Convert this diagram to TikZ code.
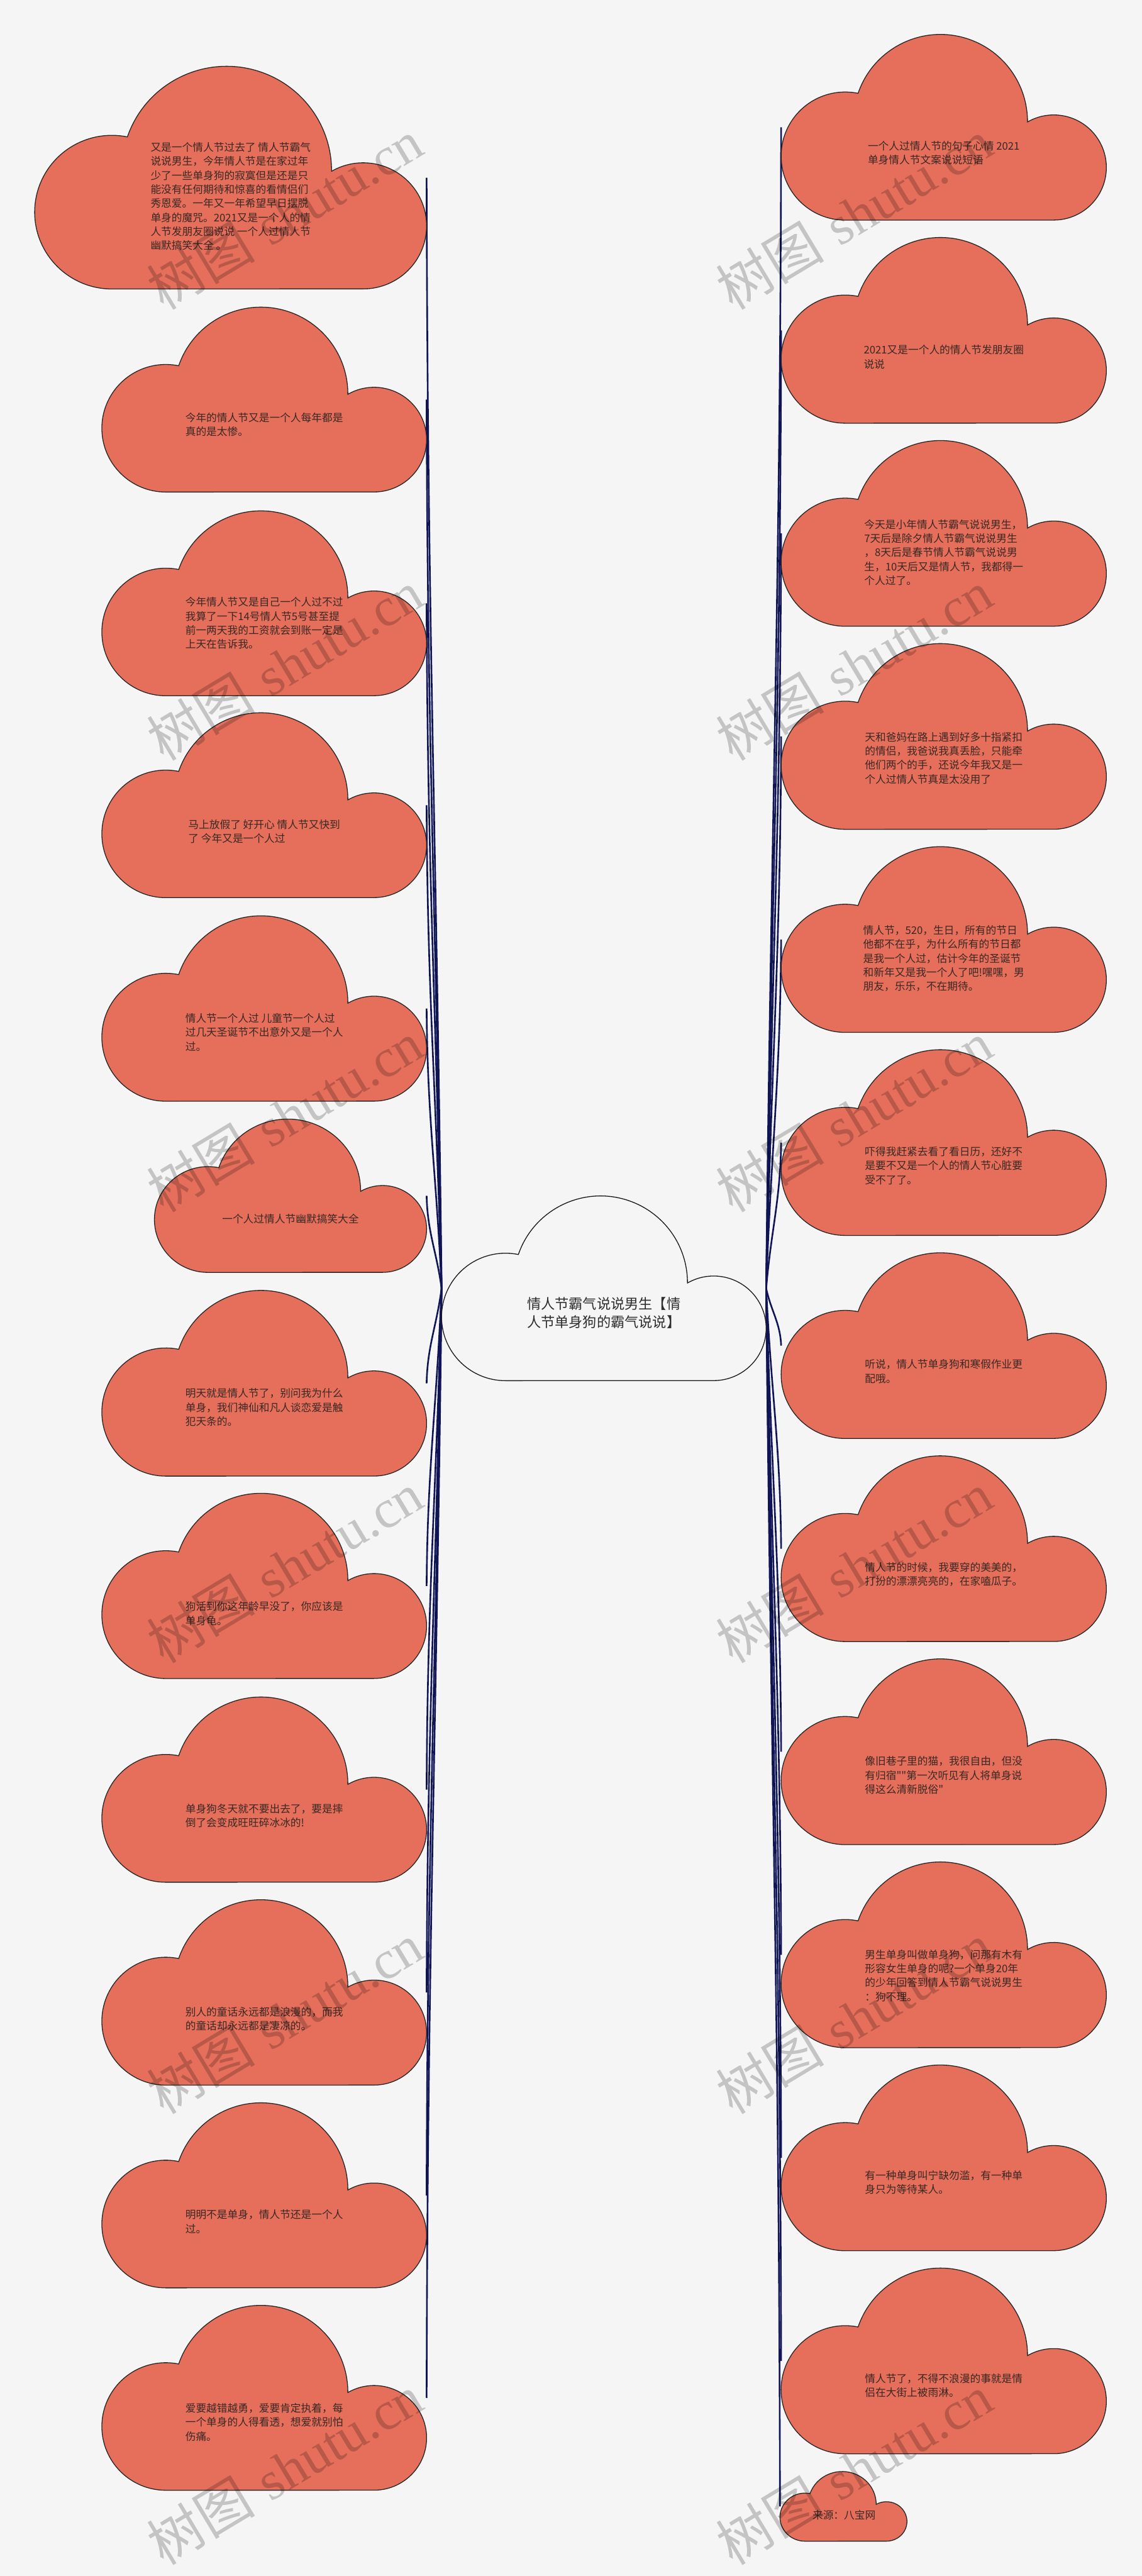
\documentclass[tikz,border=0pt]{standalone}
\usepackage{fontspec}
\newfontfamily\cjk{Noto Sans CJK SC}
\newfontfamily\wmlat{Liberation Serif}
\usetikzlibrary{calc}
\definecolor{bgc}{RGB}{245,245,245}
\definecolor{cloudc}{RGB}{229,111,91}
\definecolor{linec}{RGB}{14,20,84}
\definecolor{txtc}{RGB}{58,40,36}
\definecolor{ctxt}{RGB}{45,45,45}
\begin{document}
\begin{tikzpicture}[x=1pt,y=1pt,
  box/.style={inner sep=0pt, outer sep=0pt, draw=none},
  conn/.style={draw=linec, line width=1pt},
  cloudfill/.style={fill=cloudc, draw=black!85, line width=0.5pt},
  centerfill/.style={fill=bgc, draw=black!90, line width=0.5pt},
  ctext/.style={font=\cjk\fontsize{6.4}{8.55}\selectfont, text=txtc, align=left, inner sep=0pt},
  maintext/.style={font=\cjk\fontsize{8.5}{11.3}\selectfont, text=ctxt, align=left, inner sep=0pt},
  wm/.style={inner sep=0pt, text=black, text opacity=0.2, font=\fontsize{33}{33}\selectfont, rotate=31, anchor=south west}]
\useasboundingbox (0,0) rectangle (695,-1568);
\fill[bgc] (0,0) rectangle (695,-1568);

% invisible boxes of all clouds
\foreach \n/\x/\t/\w/\h in {
  C/268.8/728/197.6/112.4,
  L1/21.1/40.4/238.6/135.5, L2/62/187/197.7/112.5, L3/62/311/197.7/112.5,
  L4/62/433.9/197.7/112.5, L5/62/557.5/197.7/112.8, L6/94/681.2/165.7/93.3,
  L7/62/785.5/197.7/113, L8/62/909/197.7/112.7, L9/62/1033/197.7/112.7,
  L10/62/1156.4/197.7/112.8, L11/62/1280/197.7/112.6, L12/62/1403.3/197.7/112.5,
  R1/475.5/21/198/113, R2/475.5/144.6/198/113, R3/475.5/268.2/198/113,
  R4/475.5/391.8/198/113, R5/475.5/515.4/198/113, R6/475.5/639/198/113,
  R7/475.5/762.6/198/113, R8/475.5/886.2/198/113, R9/475.5/1009.8/198/113,
  R10/475.5/1133.4/198/113, R11/475.5/1257/198/113, R12/475.5/1380.6/198/113,
  S/474.8/1504.4/77.3/42.4}{
  \node[box, minimum width=\w pt, minimum height=\h pt] (\n) at (\x+\w/2, -\t-\h/2) {};
}

% connectors
\foreach \n in {L1,L2,L3,L4,L5,L6,L7,L8,L9,L10,L11,L12}{
  \draw[conn] (C.west) .. controls ($(C.west)!0.4!(C.west |- \n.east)+(-3,0)$) and ($(\n.east)!0.4!(\n.east |- C.west)+(0.5,0)$) .. (\n.east);
}
\foreach \n in {R1,R2,R3,R4,R5,R6,R7,R8,R9,R10,R11,R12,S}{
  \draw[conn] (C.east) .. controls ($(C.east)!0.4!(C.east |- \n.west)+(3,0)$) and ($(\n.west)!0.4!(\n.west |- C.east)+(-0.5,0)$) .. (\n.west);
}

% cloud outlines
\foreach \x/\t/\w/\h/\s in {
  268.8/728/197.6/112.4/centerfill,
  21.1/40.4/238.6/135.5/cloudfill, 62/187/197.7/112.5/cloudfill, 62/311/197.7/112.5/cloudfill,
  62/433.9/197.7/112.5/cloudfill, 62/557.5/197.7/112.8/cloudfill, 94/681.2/165.7/93.3/cloudfill,
  62/785.5/197.7/113/cloudfill, 62/909/197.7/112.7/cloudfill, 62/1033/197.7/112.7/cloudfill,
  62/1156.4/197.7/112.8/cloudfill, 62/1280/197.7/112.6/cloudfill, 62/1403.3/197.7/112.5/cloudfill,
  475.5/21/198/113/cloudfill, 475.5/144.6/198/113/cloudfill, 475.5/268.2/198/113/cloudfill,
  475.5/391.8/198/113/cloudfill, 475.5/515.4/198/113/cloudfill, 475.5/639/198/113/cloudfill,
  475.5/762.6/198/113/cloudfill, 475.5/886.2/198/113/cloudfill, 475.5/1009.8/198/113/cloudfill,
  475.5/1133.4/198/113/cloudfill, 475.5/1257/198/113/cloudfill, 475.5/1380.6/198/113/cloudfill,
  474.8/1504.4/77.3/42.4/cloudfill}{
  \begin{scope}[shift={(\x,-\t)}, xscale=\w/198, yscale=\h/113]
    \path[\s] (39,-113) arc[start angle=270,end angle=78.4,radius=39]
      arc[start angle=161.1,end angle=-0.3,radius=53]
      arc[start angle=120,end angle=-90,radius=32] -- cycle;
  \end{scope}
}

% texts
\node[maintext] (Ct) at (367.6,-799.2) {情人节霸气说说男生【情\\人节单身狗的霸气说说】};

\node[ctext] (L1t) at (140.4,-119.6) {又是一个情人节过去了 情人节霸气\\说说男生，今年情人节是在家过年\\少了一些单身狗的寂寞但是还是只\\能没有任何期待和惊喜的看情侣们\\秀恩爱。一年又一年希望早日摆脱\\单身的魔咒。2021又是一个人的情\\人节发朋友圈说说 一个人过情人节\\幽默搞笑大全 。};
\node[ctext] (L2t) at (160.85,-258.4) {今年的情人节又是一个人每年都是\\真的是太惨。};
\node[ctext] (L3t) at (160.85,-379.3) {今年情人节又是自己一个人过不过\\我算了一下14号情人节5号甚至提\\前一两天我的工资就会到账一定是\\上天在告诉我。};
\node[ctext] (L4t) at (160.85,-506.1) {马上放假了 好开心 情人节又快到\\了 今年又是一个人过};
\node[ctext] (L5t) at (160.85,-628.3) {情人节一个人过 儿童节一个人过\\过几天圣诞节不出意外又是一个人\\过。};
\node[ctext] (L6t) at (176.85,-742.1) {一个人过情人节幽默搞笑大全};
\node[ctext] (L7t) at (160.85,-856.7) {明天就是情人节了，别问我为什么\\单身，我们神仙和凡人谈恋爱是触\\犯天条的。};
\node[ctext] (L8t) at (160.85,-982.2) {狗活到你这年龄早没了，你应该是\\单身龟。};
\node[ctext] (L9t) at (160.85,-1105.2) {单身狗冬天就不要出去了，要是摔\\倒了会变成旺旺碎冰冰的!};
\node[ctext] (L10t) at (160.85,-1228.8) {别人的童话永远都是浪漫的，而我\\的童话却永远都是凄凉的。};
\node[ctext] (L11t) at (160.85,-1352.2) {明明不是单身，情人节还是一个人\\过。};
\node[ctext] (L12t) at (160.85,-1474.3) {爱要越错越勇，爱要肯定执着，每\\一个单身的人得看透，想爱就别怕\\伤痛。};

\node[ctext] (R1t) at (574.5,-93.2) {一个人过情人节的句子心情 2021\\单身情人节文案说说短语};
\node[ctext] (R2t) at (574.5,-217.3) {2021又是一个人的情人节发朋友圈\\说说};
\node[ctext] (R3t) at (574.5,-336.3) {今天是小年情人节霸气说说男生，\\7天后是除夕情人节霸气说说男生\\，8天后是春节情人节霸气说说男\\生，10天后又是情人节，我都得一\\个人过了。};
\node[ctext] (R4t) at (574.5,-461.4) {天和爸妈在路上遇到好多十指紧扣\\的情侣，我爸说我真丢脸，只能牵\\他们两个的手，还说今年我又是一\\个人过情人节真是太没用了};
\node[ctext] (R5t) at (574.5,-583.4) {情人节，520，生日，所有的节日\\他都不在乎，为什么所有的节日都\\是我一个人过，估计今年的圣诞节\\和新年又是我一个人了吧!嘿嘿，男\\朋友，乐乐，不在期待。};
\node[ctext] (R6t) at (574.5,-709.5) {吓得我赶紧去看了看日历，还好不\\是要不又是一个人的情人节心脏要\\受不了了。};
\node[ctext] (R7t) at (574.5,-834.8) {听说，情人节单身狗和寒假作业更\\配哦。};
\node[ctext] (R8t) at (574.5,-958.4) {情人节的时候，我要穿的美美的，\\打扮的漂漂亮亮的，在家嗑瓜子。};
\node[ctext] (R9t) at (574.5,-1080.6) {像旧巷子里的猫，我很自由，但没\\有归宿""第一次听见有人将单身说\\得这么清新脱俗"};
\node[ctext] (R10t) at (574.5,-1202.5) {男生单身叫做单身狗，问那有木有\\形容女生单身的呢?一个单身20年\\的少年回答到情人节霸气说说男生\\：狗不理。};
\node[ctext] (R11t) at (574.5,-1328.5) {有一种单身叫宁缺勿滥，有一种单\\身只为等待某人。};
\node[ctext] (R12t) at (574.5,-1451.9) {情人节了，不得不浪漫的事就是情\\侣在大街上被雨淋。};
\node[ctext] (St) at (513.8,-1531) {来源：八宝网};

% watermarks
\foreach \i/\y in {1/192, 2/466.5, 3/741, 4/1015.5, 5/1290, 6/1564.5}{
  \node[wm] (wl\i) at (101,-\y) {{\cjk 树图} {\wmlat shutu.cn}};
  \node[wm] (wr\i) at (447.5,-\y) {{\cjk 树图} {\wmlat shutu.cn}};
}
\end{tikzpicture}
\end{document}
